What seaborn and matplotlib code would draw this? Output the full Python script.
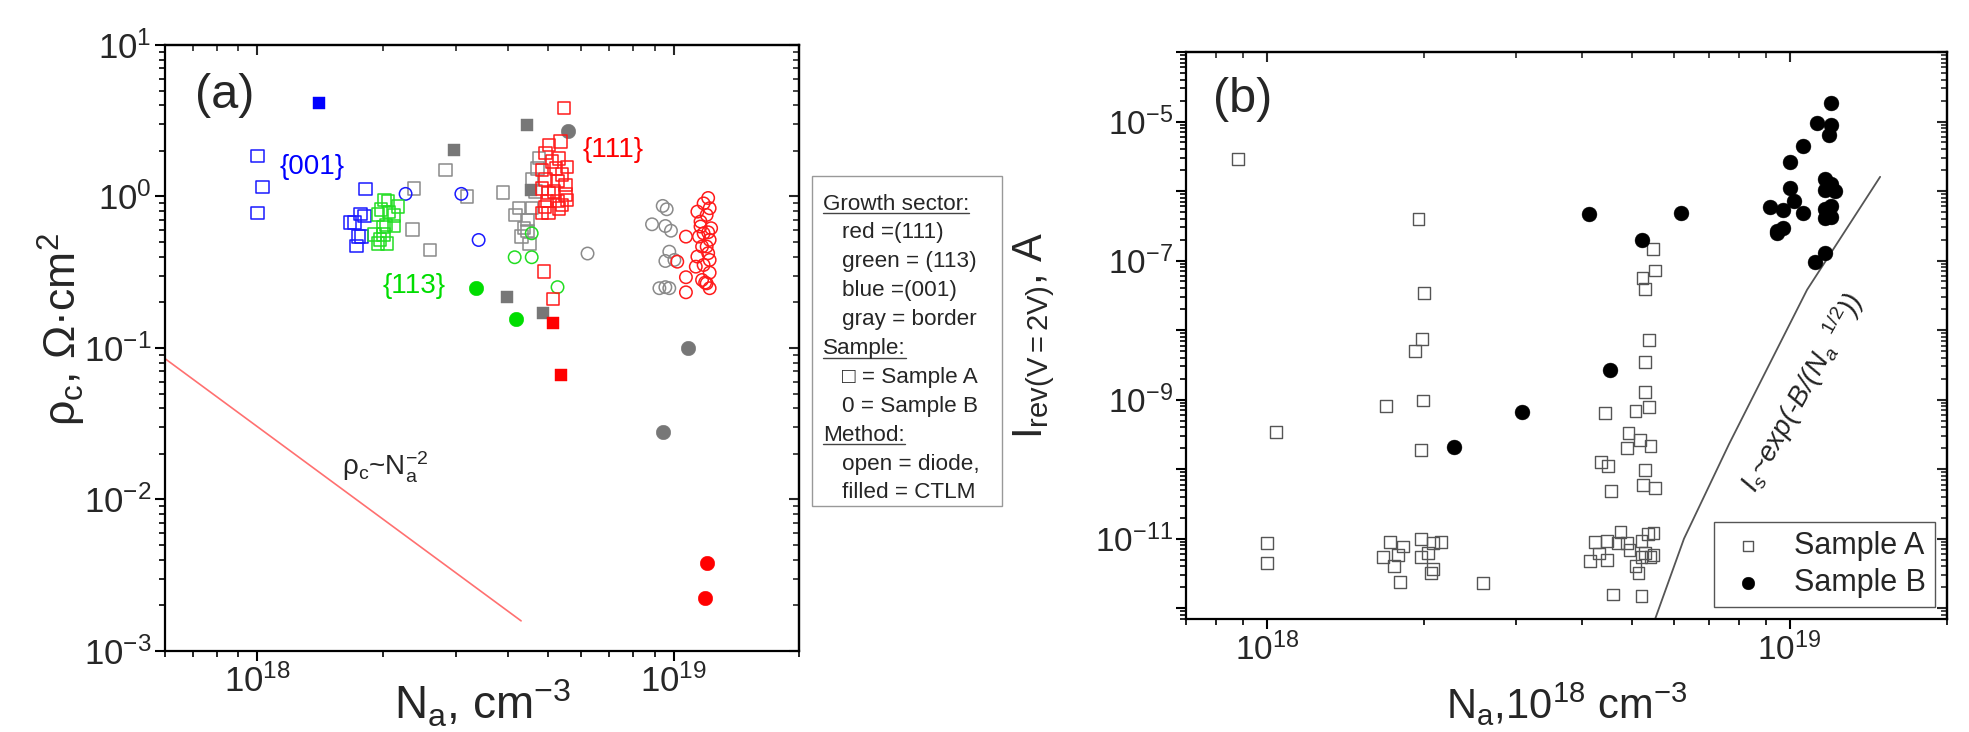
import matplotlib
matplotlib.use('Agg')
import matplotlib.pyplot as plt
import seaborn as sns
import numpy as np
from matplotlib import ticker
from matplotlib.patches import Rectangle
from matplotlib.lines import Line2D

sns.set_style('ticks')
plt.rcParams['font.family'] = ['Liberation Sans', 'DejaVu Sans']
plt.rcParams['mathtext.fontset'] = 'custom'
plt.rcParams['mathtext.rm'] = 'Liberation Sans'
plt.rcParams['mathtext.it'] = 'Liberation Sans:italic'
plt.rcParams['mathtext.bf'] = 'Liberation Sans:bold'

# ---------------- panel (a) data: contact resistivity vs Na ----------------
blue_sq_open_x = [1.0e18, 1.03e18, 1.0e18, 1.82e18, 1.67e18, 1.71e18, 1.77e18, 1.81e18,
                  1.75e18, 1.78e18, 1.73e18]
blue_sq_open_y = [1.85, 1.15, 0.775, 1.12, 0.671, 0.671, 0.766, 0.744, 0.543, 0.543, 0.471]
blue_sq_fill_x = [1.41e18]
blue_sq_fill_y = [4.14]
blue_circ_open_x = [2.27e18, 3.09e18, 3.4e18]
blue_circ_open_y = [1.04, 1.04, 0.516]

green_sq_open_x = [1.95e18, 2.02e18, 2.06e18, 1.98e18, 2.07e18, 2.18e18, 2.13e18, 1.91e18,
                   2.01e18, 2.04e18, 2.13e18, 1.97e18, 2.05e18, 1.95e18, 2.01e18]
green_sq_open_y = [0.76, 0.95, 0.93, 0.82, 0.79, 0.86, 0.75, 0.56, 0.63, 0.65, 0.64, 0.52,
                   0.49, 0.49, 0.56]
green_circ_open_x = [4.56e18, 4.15e18, 4.56e18, 5.26e18]
green_circ_open_y = [0.571, 0.397, 0.397, 0.252]
green_circ_fill_x = [3.36e18, 4.17e18]
green_circ_fill_y = [0.248, 0.155]

gray_sq_open_x = [2.83e18, 2.38e18, 3.19e18, 2.36e18, 2.60e18, 3.89e18, 4.75e18, 4.71e18,
                  4.57e18, 4.66e18, 4.25e18, 4.57e18, 4.17e18, 4.45e18, 4.37e18, 4.31e18,
                  4.50e18, 4.45e18]
gray_sq_open_y = [1.50, 1.13, 1.0, 0.607, 0.443, 1.06, 1.79, 1.53, 1.29, 1.08, 0.836, 0.836,
                  0.755, 0.70, 0.617, 0.543, 0.486, 0.59]
gray_sq_fill_x = [2.96e18, 4.45e18, 4.53e18, 3.98e18, 4.85e18]
gray_sq_fill_y = [2.03, 2.96, 1.11, 0.218, 0.169]
gray_circ_open_x = [6.21e18, 9.41e18, 9.62e18, 8.87e18, 9.55e18, 9.85e18, 9.76e18, 9.55e18,
                    1.004e19, 9.24e18, 9.55e18, 9.76e18]
gray_circ_open_y = [0.42, 0.866, 0.823, 0.655, 0.638, 0.594, 0.432, 0.375, 0.381, 0.248,
                    0.252, 0.248]
gray_circ_fill_x = [5.58e18, 1.08e19, 9.41e18]
gray_circ_fill_y = [2.72, 0.0995, 0.0277]

red_sq_open_x = [5.45e18, 5.02e18, 5.35e18, 4.92e18, 5.30e18, 5.55e18, 4.83e18, 5.21e18,
                 4.92e18, 5.26e18, 5.50e18, 4.83e18, 5.16e18, 5.50e18, 4.97e18, 5.26e18,
                 5.55e18, 4.83e18, 5.0e18, 5.30e18, 5.10e18, 5.40e18, 5.0e18, 5.40e18,
                 4.90e18, 4.88e18, 5.13e18]
red_sq_open_y = [3.82, 2.18, 2.30, 1.93, 1.78, 1.57, 1.50, 1.53, 1.29, 1.26, 1.19, 1.13,
                 1.08, 1.03, 0.93, 0.93, 0.95, 0.775, 0.775, 0.83, 1.70, 1.40, 1.05, 0.88,
                 0.85, 0.319, 0.21]
red_sq_fill_x = [5.14e18, 5.35e18]
red_sq_fill_y = [0.147, 0.066]
red_circ_open_x = [1.21e19, 1.18e19, 1.22e19, 1.14e19, 1.20e19, 1.16e19, 1.23e19, 1.18e19,
                   1.15e19, 1.22e19, 1.17e19, 1.21e19, 1.14e19, 1.22e19, 1.18e19, 1.13e19,
                   1.22e19, 1.17e19, 1.20e19, 1.22e19, 1.07e19, 1.02e19, 1.07e19, 1.07e19,
                   1.16e19, 1.20e19, 1.19e19, 1.21e19]
red_circ_open_y = [0.977, 0.90, 0.836, 0.794, 0.755, 0.683, 0.617, 0.571, 0.543, 0.517,
                   0.467, 0.422, 0.401, 0.381, 0.353, 0.344, 0.314, 0.281, 0.267, 0.248,
                   0.543, 0.371, 0.293, 0.233, 0.633, 0.467, 0.27, 0.58]
red_circ_fill_x = [1.20e19, 1.19e19]
red_circ_fill_y = [0.00383, 0.00225]

trend_a_x = [6.0e17, 4.3e18]
trend_a_y = [0.085, 0.00158]

xticks_a = [1e18, 1e19]
xlabels_a = [r'$10^{18}$', r'$10^{19}$']
yticks_a = [1e-3, 1e-2, 1e-1, 1e0, 1e1]
ylabels_a = [r'$10^{-3}$', r'$10^{-2}$', r'$10^{-1}$', r'$10^{0}$', r'$10^{1}$']

# ---------------- panel (b) data: reverse current vs Na ----------------
sample_a_x = [8.8e17, 1.04e18, 1.0e18, 1.0e18,
              1.72e18, 1.82e18, 1.67e18, 1.78e18, 1.75e18, 1.80e18, 1.97e18, 1.97e18,
              2.03e18, 2.15e18, 2.08e18, 2.08e18, 2.06e18, 2.59e18,
              1.95e18, 2.0e18, 1.98e18, 1.92e18, 1.99e18, 1.69e18, 1.97e18,
              4.24e18, 4.15e18, 4.32e18, 4.48e18, 4.48e18, 4.75e18, 4.69e18, 4.94e18,
              4.88e18, 5.07e18, 5.14e18, 5.21e18, 5.28e18, 5.35e18, 5.42e18, 5.49e18,
              5.49e18, 5.21e18, 4.59e18, 5.21e18,
              4.43e18, 4.36e18, 4.5e18, 4.56e18, 4.92e18, 4.88e18, 5.17e18, 5.42e18,
              5.07e18, 5.38e18, 5.28e18, 5.28e18, 5.38e18, 5.28e18, 5.25e18, 5.52e18,
              5.23e18, 5.28e18, 5.52e18, 5.47e18]
sample_a_y = [2.92e-6, 3.46e-10, 8.57e-12, 4.49e-12,
              9.0e-12, 7.7e-12, 5.4e-12, 5.8e-12, 4.0e-12, 2.4e-12, 1.0e-11, 5.4e-12,
              6.3e-12, 9.0e-12, 8.6e-12, 3.7e-12, 3.2e-12, 2.3e-12,
              3.94e-7, 3.4e-8, 7.5e-9, 4.96e-9, 9.7e-10, 8.05e-10, 1.87e-10,
              9.0e-12, 4.8e-12, 6.1e-12, 9.3e-12, 5.0e-12, 1.26e-11, 8.6e-12, 6.8e-12,
              8.6e-12, 4.0e-12, 3.25e-12, 9.3e-12, 6.3e-12, 1.17e-11, 5.4e-12, 1.22e-11,
              5.8e-12, 5.4e-12, 1.57e-12, 1.5e-12,
              6.4e-10, 1.27e-10, 1.12e-10, 4.8e-11, 3.3e-10, 2.0e-10, 2.66e-10, 2.18e-10,
              6.9e-10, 7.8e-10, 1.28e-9, 3.5e-9, 7.2e-9, 9.6e-11, 5.9e-11, 5.4e-11,
              5.6e-8, 3.9e-8, 7.2e-8, 1.47e-7]
sample_b_x = [2.28e18, 3.08e18, 4.54e18, 4.13e18, 5.21e18, 6.19e18,
              1.20e19, 1.13e19, 1.20e19, 1.19e19, 1.06e19, 1.0e19, 1.0e19, 1.02e19,
              9.16e18, 9.7e18, 1.06e19, 9.48e18, 9.73e18, 9.45e18,
              1.17e19, 1.20e19, 1.17e19, 1.22e19, 1.20e19, 1.17e19, 1.20e19, 1.17e19,
              1.17e19, 1.12e19]
sample_b_y = [2.08e-10, 6.7e-10, 2.68e-9, 4.67e-7, 2.0e-7, 4.81e-7,
              1.85e-5, 9.4e-6, 9.0e-6, 6.3e-6, 4.5e-6, 2.6e-6, 1.1e-6, 7.1e-7,
              5.8e-7, 5.4e-7, 4.8e-7, 2.7e-7, 2.9e-7, 2.5e-7,
              1.48e-6, 1.27e-6, 1.04e-6, 9.9e-7, 6.07e-7, 5.6e-7, 4.3e-7, 4.1e-7,
              1.3e-7, 9.5e-8]

trend_b_x = [5.53e18, 6.28e18, 7.66e18, 1.08e19, 1.49e19]
trend_b_y = [7.0e-13, 1.0e-11, 2.3e-10, 3.8e-8, 1.6e-6]

xticks_b = [1e18, 1e19]
xlabels_b = [r'$10^{18}$', r'$10^{19}$']
yticks_b = [1e-12, 1e-11, 1e-10, 1e-9, 1e-8, 1e-7, 1e-6, 1e-5, 1e-4]
ylabels_b = ['', r'$10^{-11}$', '', r'$10^{-9}$', '', r'$10^{-7}$', '', r'$10^{-5}$', '']

key_lines = ['Growth sector:', 'red =(111)', 'green = (113)', 'blue =(001)', 'gray = border',
             'Sample:', '\u25a1 = Sample A', '0 = Sample B', 'Method:', 'open = diode,',
             'filled = CTLM']
key_headers = [0, 5, 8]

BLUE = '#1a1aff'
GREEN = '#22dd22'
RED = '#ff1a1a'
GRAY_OPEN = '#8a8a8a'
GRAY_FILL = '#777777'


def dots(ax, x, y, color, marker, filled, size=80, lw=1.1):
    sns.scatterplot(x=x, y=y, ax=ax, marker=marker, s=size, color=color,
                    legend=False, zorder=3)
    pts = ax.collections[-1]
    if filled:
        pts.set_edgecolor(color)
        pts.set_linewidth(0.3)
    else:
        pts.set_facecolor('none')
        pts.set_edgecolor(color)
        pts.set_linewidth(lw)
    return pts


def frame(ax, xlim, ylim, xticks, xlabels, yticks, ylabels, labelsize):
    ax.set_xscale('log')
    ax.set_yscale('log')
    ax.set_xlim(xlim)
    ax.set_ylim(ylim)
    ax.set_xticks(xticks, xlabels)
    ax.set_yticks(yticks, ylabels)
    for axis in (ax.xaxis, ax.yaxis):
        axis.set_minor_locator(ticker.LogLocator(base=10, subs=np.arange(2, 10), numticks=40))
        axis.set_minor_formatter(ticker.NullFormatter())
    ax.tick_params(which='major', direction='out', length=7, width=1.5, labelsize=labelsize,
                   pad=2.5, color='black')
    ax.tick_params(which='minor', direction='out', length=4, width=1.2, color='black')
    for sp in ax.spines.values():
        sp.set_linewidth(1.6)
        sp.set_color('black')

    top = ax.secondary_xaxis('top')
    top.set_xticks(xticks)
    top.xaxis.set_minor_locator(ticker.LogLocator(base=10, subs=np.arange(2, 10), numticks=40))
    top.tick_params(axis='x', which='major', direction='in', length=7, width=1.5,
                    labeltop=False, labelbottom=False)
    top.tick_params(axis='x', which='minor', direction='in', length=4, width=1.2,
                    labeltop=False, labelbottom=False)
    right = ax.secondary_yaxis('right')
    right.set_yticks(yticks)
    right.yaxis.set_minor_locator(ticker.LogLocator(base=10, subs=np.arange(2, 10), numticks=40))
    right.tick_params(axis='y', which='major', direction='in', length=7, width=1.5,
                      labelright=False, labelleft=False)
    right.tick_params(axis='y', which='minor', direction='in', length=4, width=1.2,
                      labelright=False, labelleft=False)
    for sec in (top, right):
        for sp in sec.spines.values():
            sp.set_linewidth(1.6)


fig = plt.figure(figsize=(19.69, 7.32), dpi=100)
ax_a = fig.add_axes([0.0838, 0.1107, 0.322, 0.8279])
ax_b = fig.add_axes([0.6023, 0.1544, 0.3865, 0.7746])

# ---------------- panel (a) ----------------
sns.lineplot(x=trend_a_x, y=trend_a_y, ax=ax_a, color='#ff7070', linewidth=1.2)

dots(ax_a, gray_sq_open_x, gray_sq_open_y, GRAY_OPEN, 's', False)
dots(ax_a, gray_circ_open_x, gray_circ_open_y, GRAY_OPEN, 'o', False)
dots(ax_a, gray_sq_fill_x, gray_sq_fill_y, GRAY_FILL, 's', True)
dots(ax_a, gray_circ_fill_x, gray_circ_fill_y, GRAY_FILL, 'o', True, size=110)
dots(ax_a, blue_sq_open_x, blue_sq_open_y, BLUE, 's', False)
dots(ax_a, blue_sq_fill_x, blue_sq_fill_y, '#0000ff', 's', True)
dots(ax_a, blue_circ_open_x, blue_circ_open_y, BLUE, 'o', False)
dots(ax_a, green_sq_open_x, green_sq_open_y, GREEN, 's', False)
dots(ax_a, green_circ_open_x, green_circ_open_y, GREEN, 'o', False)
dots(ax_a, green_circ_fill_x, green_circ_fill_y, '#00dd00', 'o', True, size=110)
dots(ax_a, red_sq_open_x, red_sq_open_y, RED, 's', False)
dots(ax_a, red_sq_fill_x, red_sq_fill_y, '#ff0000', 's', True)
dots(ax_a, red_circ_open_x, red_circ_open_y, RED, 'o', False)
dots(ax_a, red_circ_fill_x, red_circ_fill_y, '#ff0000', 'o', True, size=110)

frame(ax_a, (6e17, 2e19), (1e-3, 1e1), xticks_a, xlabels_a, yticks_a, ylabels_a, 25)
ax_a.set_xlabel(r'N$_\mathrm{a}$, cm$^{-3}$', fontsize=33)
ax_a.xaxis.set_label_coords(0.5, -0.045)
ax_a.set_ylabel('\u03c1$_\\mathrm{c}$, \u03a9\u00b7cm$^2$', fontsize=32)
ax_a.yaxis.set_label_coords(-0.122, 0.53)

ax_a.text(0.047, 0.916, '(a)', transform=ax_a.transAxes, fontsize=35, ha='left', va='center')
ax_a.text(1.13e18, 1.57, '{001}', color='#0000ff', fontsize=20, ha='left', va='center')
ax_a.text(2.0e18, 0.258, '{113}', color='#00dd00', fontsize=20, ha='left', va='center')
ax_a.text(6.04e18, 2.03, '{111}', color='#ff0000', fontsize=20, ha='left', va='center')
ax_a.text(1.6e18, 0.0145, '\u03c1$_\\mathrm{c}$~N$_\\mathrm{a}^{-2}$', fontsize=20,
          ha='left', va='baseline')

# key box between the panels
W, H = 1969.0, 732.0
fig.add_artist(Rectangle((812 / W, 1 - 506 / H), (1002 - 812) / W, (506 - 176) / H,
                         transform=fig.transFigure, facecolor='white',
                         edgecolor='#999999', linewidth=1.0))
key_texts = []
for i, line in enumerate(key_lines):
    yc = 204 + i * 28.9
    xl = 823 if i in key_headers else 842
    t = fig.text(xl / W, 1 - yc / H, line, fontsize=16.2, ha='left', va='center')
    key_texts.append((i, t))

# ---------------- panel (b) ----------------
sns.lineplot(x=trend_b_x, y=trend_b_y, ax=ax_b, color='#555555', linewidth=1.3)
pts_a = dots(ax_b, sample_a_x, sample_a_y, '#555555', 's', False, size=72, lw=1.0)
pts_b = dots(ax_b, sample_b_x, sample_b_y, 'black', 'o', True, size=115)

frame(ax_b, (7e17, 2e19), (7e-13, 1e-4), xticks_b, xlabels_b, yticks_b, ylabels_b, 24)
ax_b.set_xlabel(r'N$_\mathrm{a}$,10$^{18}$ cm$^{-3}$', fontsize=30, labelpad=10)
ax_b.set_ylabel(r'I$_\mathrm{rev(V=2V)}$, A', fontsize=30)
ax_b.yaxis.set_label_coords(-0.17, 0.5)
ax_b.text(0.035, 0.916, '(b)', transform=ax_b.transAxes, fontsize=35, ha='left', va='center')
ax_b.text(0.81, 0.40, '$I_s$~exp(-B/(N$_a$$^{\\ \\ 1/2}$))', transform=ax_b.transAxes,
          fontsize=20, style='italic', rotation=61, rotation_mode='anchor',
          ha='center', va='center', color='#222222')

leg = ax_b.legend(handles=[pts_a, pts_b], labels=['Sample A', 'Sample B'], loc='lower right',
                  fontsize=22, frameon=True, fancybox=False, framealpha=1, edgecolor='#555555',
                  borderaxespad=0.4, handletextpad=0.7, handlelength=1.6, borderpad=0.3,
                  labelspacing=0.2, markerscale=0.85)
leg.get_frame().set_linewidth(1.0)

# underline headers in the key box
fig.canvas.draw()
renderer = fig.canvas.get_renderer()
for i, t in key_texts:
    if i in key_headers:
        bb = t.get_window_extent(renderer).transformed(fig.transFigure.inverted())
        yline = bb.y0 + 0.06 * bb.height
        fig.add_artist(Line2D([bb.x0, bb.x1], [yline, yline], transform=fig.transFigure,
                              color='#444444', linewidth=1.0))

fig.savefig('out.png', dpi=100)
